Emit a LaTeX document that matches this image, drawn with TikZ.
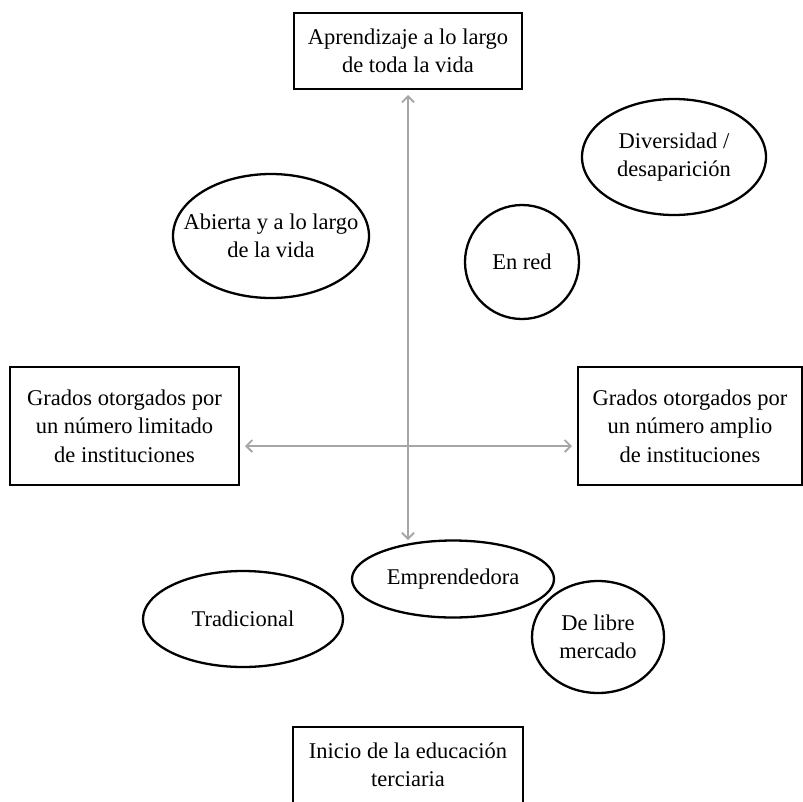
\documentclass[tikz,border=0pt]{standalone}
\usepackage{fontspec}
\setmainfont{Liberation Serif}
\usetikzlibrary{shapes.geometric,arrows.meta}
\begin{document}
\begin{tikzpicture}[x=1pt,y=-1pt,
  every node/.style={font=\fontsize{22.5}{28.5}\selectfont, align=center, inner sep=0pt},
  box/.style={draw, line width=2.3pt, rectangle},
  oval/.style={draw, line width=2.3pt},
  axis/.style={draw={rgb,255:red,166;green,166;blue,166}, line width=1.8pt,
    {Straight Barb[length=6pt,width=12pt,line width=1.8pt]}-{Straight Barb[length=6pt,width=12pt,line width=1.8pt]}}]
\useasboundingbox (0,0) rectangle (803,801);
\clip (0,0) rectangle (803,801);
% boxes
\node[box, minimum width=228, minimum height=76] (top) at (408,51) {Aprendizaje a lo largo\\de toda la vida};
\node[box, minimum width=229, minimum height=118] (left) at (124.5,426) {Grados otorgados por\\un número limitado\\de instituciones};
\node[box, minimum width=224, minimum height=118] (right) at (690,426) {Grados otorgados por\\un número amplio\\de instituciones};
\node[box, minimum width=230, minimum height=76] (bottom) at (408,765) {Inicio de la educación\\terciaria};
% ellipses
\node (div) at (674,157) {Diversidad /\\desaparición};
\draw[oval] (div.center) ellipse [x radius=92, y radius=58];
\node (abi) at (271,236) {Abierta y a lo largo\\de la vida};
\draw[oval] (abi.center) ellipse [x radius=98, y radius=62];
\node (red) at (522,262) {En red};
\draw[oval] (red.center) circle [radius=57];
\node (emp) at (453,579) {Emprendedora};
\draw[oval] (emp.center) ellipse [x radius=101, y radius=38.5];
\node (tra) at (243,619) {Tradicional};
\draw[oval] (tra.center) ellipse [x radius=100, y radius=48];
\node (lib) at (598,637) {De libre\\mercado};
\draw[oval] (lib.center) ellipse [x radius=66, y radius=56];
% axes
\coordinate (vt) at (408,95);
\coordinate (vb) at (408,540);
\coordinate (hl) at (245,446);
\coordinate (hr) at (572,446);
\draw[axis] (vt) -- (vb);
\draw[axis] (hl) -- (hr);
\end{tikzpicture}
\end{document}
